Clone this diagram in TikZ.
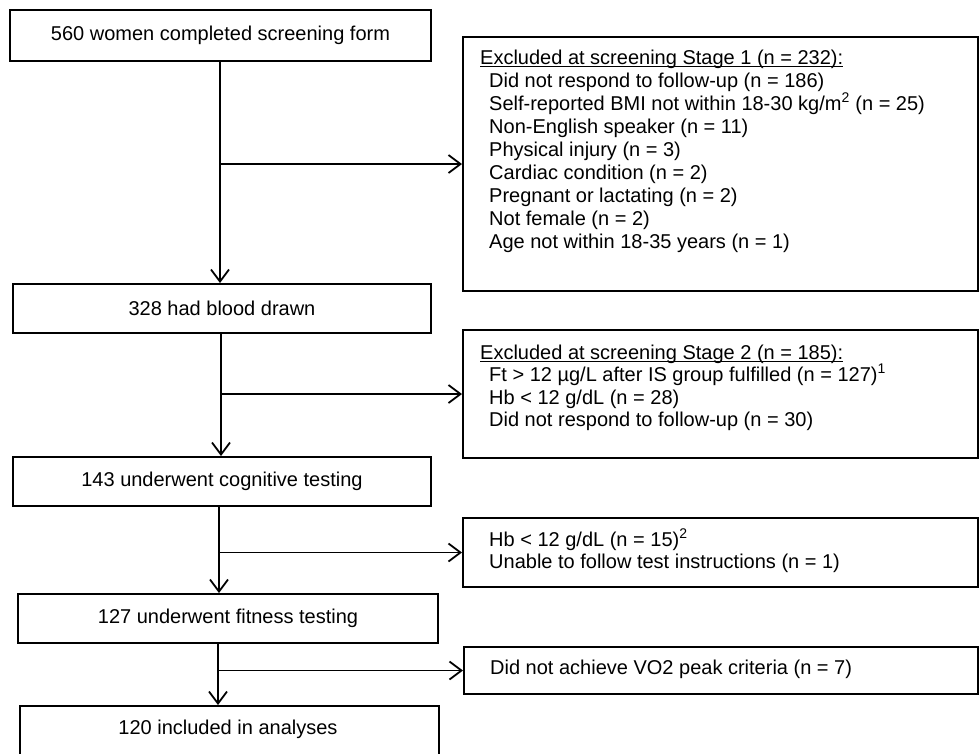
\documentclass[tikz,border=0pt]{standalone}
\usepackage{fontspec}
\setmainfont{Liberation Sans}
\usetikzlibrary{arrows.meta}
\newcommand\hdrul[1]{\setbox0=\hbox{#1}\rlap{\rule[-3.2pt]{\wd0}{1.2pt}}\box0}
\begin{document}
\begin{tikzpicture}[x=1pt,y=-1pt,
  box/.style={draw, line width=2pt, inner sep=0pt, anchor=north west,
              font=\fontsize{20}{23}\selectfont},
  txt/.style={font=\fontsize{20}{23}\selectfont, inner sep=0pt, anchor=base west},
  arr/.style={line width=1.8pt, -{Straight Barb[length=12pt,width=18pt,line width=1.8pt]}}]
\useasboundingbox (0,0) rectangle (980,753);
\clip (0,0) rectangle (980,753);
\fill[white] (0,0) rectangle (980,753);

% left column
\node[box, minimum width=421pt, minimum height=51pt] (b1) at (9,9) {560 women completed screening form};
\node[box, minimum width=418pt, minimum height=49pt] (b2) at (12,283) {328 had blood drawn};
\node[box, minimum width=418pt, minimum height=49pt] (b3) at (12,456) {143 underwent cognitive testing};
\node[box, minimum width=420pt, minimum height=49pt] (b4) at (17,593) {127 underwent fitness testing};
\node[box, minimum width=419pt, minimum height=56pt] (b5) at (19,705) {};
\node[txt, anchor=base] (b5t) at (228,734) {120 included in analyses};

% right column
\node[box, minimum width=515pt, minimum height=254pt] (r1) at (462,36) {};
\node[box, minimum width=515pt, minimum height=128pt] (r2) at (462,329) {};
\node[box, minimum width=515pt, minimum height=69pt] (r3) at (462,517) {};
\node[box, minimum width=514pt, minimum height=47pt] (r4) at (463,646) {};

\node[txt] (r1h) at (480,64) {\hdrul{Excluded at screening Stage 1 (n = 232):}};
\foreach \t [count=\i] in {
  Did not respond to follow-up (n = 186),
  Self-reported BMI not within 18-30 kg/m\textsuperscript{2} (n = 25),
  Non-English speaker (n = 11),
  Physical injury (n = 3),
  Cardiac condition (n = 2),
  Pregnant or lactating (n = 2),
  Not female (n = 2),
  Age not within 18-35 years (n = 1)}
  \node[txt] (r1l\i) at (489,{64+23.1*\i}) {\t};

\node[txt] (r2h) at (480,359) {\hdrul{Excluded at screening Stage 2 (n = 185):}};
\foreach \t [count=\i] in {
  Ft > 12 µg/L after IS group fulfilled (n = 127)\textsuperscript{1},
  Hb < 12 g/dL (n = 28),
  Did not respond to follow-up (n = 30)}
  \node[txt] (r2l\i) at (489,{359+22.5*\i}) {\t};

\node[txt] (r3l1) at (489,546) {Hb < 12 g/dL (n = 15)\textsuperscript{2}};
\node[txt] (r3l2) at (489,568) {Unable to follow test instructions (n = 1)};
\node[txt] (r4l1) at (490,674) {Did not achieve VO2 peak criteria (n = 7)};

% connectors
\coordinate (v1) at (220,0);
\coordinate (v2) at (221,0);
\coordinate (v3) at (219,0);
\coordinate (v4) at (218,0);
\draw[arr] (v1 |- b1.south) -- (v1 |- b2.north);
\draw[arr] (v1 |- r1.west) -- (r1.west);
\draw[arr] (v2 |- b2.south) -- (v2 |- b3.north);
\draw[arr] (v2 |- r2.west) -- (r2.west);
\draw[arr] (v3 |- b3.south) -- (v3 |- b4.north);
\draw[arr] (v3 |- r3.west) -- (r3.west);
\draw[arr] (v4 |- b4.south) -- (v4 |- b5.north);
\draw[arr] (v4 |- r4.west) -- (r4.west);
\end{tikzpicture}
\end{document}
